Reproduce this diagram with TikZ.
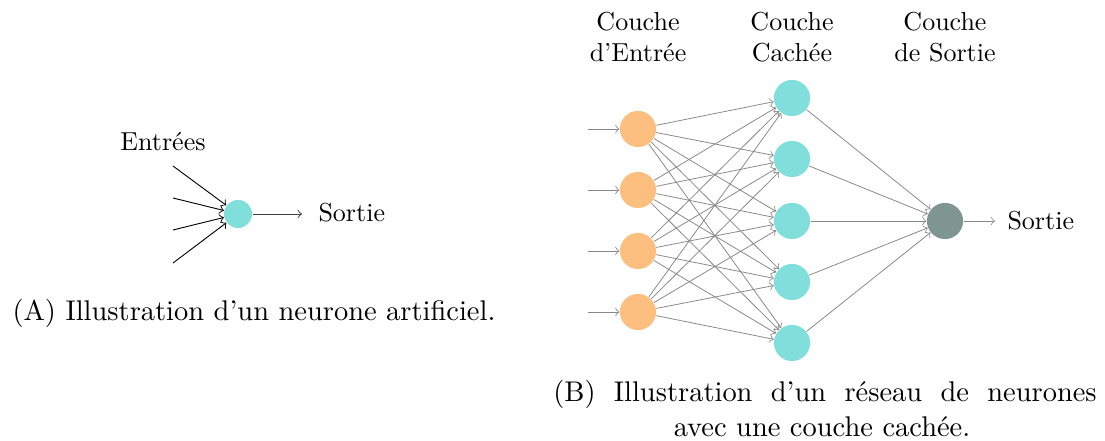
\documentclass[tikz,border=0pt]{standalone}
\usetikzlibrary{arrows}
\definecolor{inorange}{HTML}{FDBF80}
\definecolor{hidcyan}{HTML}{80DEDB}
\definecolor{outgray}{HTML}{7E9592}
\definecolor{edgegray}{HTML}{888888}
\tikzset{
  neuronA/.style={circle, fill=hidcyan, minimum size=10.8pt, inner sep=0pt},
  inneuron/.style={circle, fill=inorange, minimum size=13.9pt, inner sep=0pt},
  hidneuron/.style={circle, fill=hidcyan, minimum size=13.9pt, inner sep=0pt},
  outneuron/.style={circle, fill=outgray, minimum size=13.9pt, inner sep=0pt},
  netedge/.style={->, draw=edgegray, line width=0.3pt},
  inedge/.style={->, draw=black, line width=0.35pt},
  lbl/.style={font=\fontsize{10}{12}\selectfont, inner sep=0pt, align=center},
  captext/.style={font=\fontsize{10.95}{13.6}\selectfont, inner sep=0pt}
}
\begin{document}
\begin{tikzpicture}[x=0.3846pt, y=-0.3846pt]
\useasboundingbox (0,0) rectangle (1105,441);
% ---------- (A) ----------
\node[neuronA] (n) at (238,214) {};
\coordinate (a1) at (173,166);
\coordinate (a2) at (173,198);
\coordinate (a3) at (173,230);
\coordinate (a4) at (173,263);
\foreach \i in {1,...,4} \draw[inedge] (a\i) -- (n);
\node[lbl] (entrees) at (163,142) {Entr\'ees};
\node[lbl, anchor=west] (sortieA) at (318,213) {Sortie};
\coordinate (aout) at (302,214);
\draw[->, draw=black!75, line width=0.35pt] (n) -- (aout);
\node[captext] (capA) at (254,313) {(A) Illustration d'un neurone artificiel.};
% ---------- (B) ----------
\foreach \i/\y in {1/129,2/190,3/251,4/312} {
  \node[inneuron] (i\i) at (638,\y) {};
  \coordinate (s\i) at (588,\y);
}
\foreach \j/\y in {1/98,2/159,3/221,4/282,5/343} {
  \node[hidneuron] (h\j) at (792,\y) {};
}
\node[outneuron] (o) at (945,221) {};
\foreach \i in {1,...,4} \draw[netedge] (s\i) -- (i\i);
\foreach \i in {1,...,4} \foreach \j in {1,...,5} \draw[netedge] (i\i) -- (h\j);
\foreach \j in {1,...,5} \draw[netedge] (h\j) -- (o);
\coordinate (bout) at (995,221);
\draw[netedge] (o) -- (bout);
\node[lbl, anchor=west] (sortieB) at (1007,221) {Sortie};
\node[lbl] (t1) at (638,37) {Couche\\d'Entr\'ee};
\node[lbl] (t2) at (792,37) {Couche\\Cach\'ee};
\node[lbl] (t3) at (945,37) {Couche\\de Sortie};
\node[captext] (capB1) at (825,394) {\makebox[209pt][s]{(B) Illustration d'un r\'eseau de neurones}};
\node[captext] (capB2) at (822,427) {avec une couche cach\'ee.};
\end{tikzpicture}
\end{document}
